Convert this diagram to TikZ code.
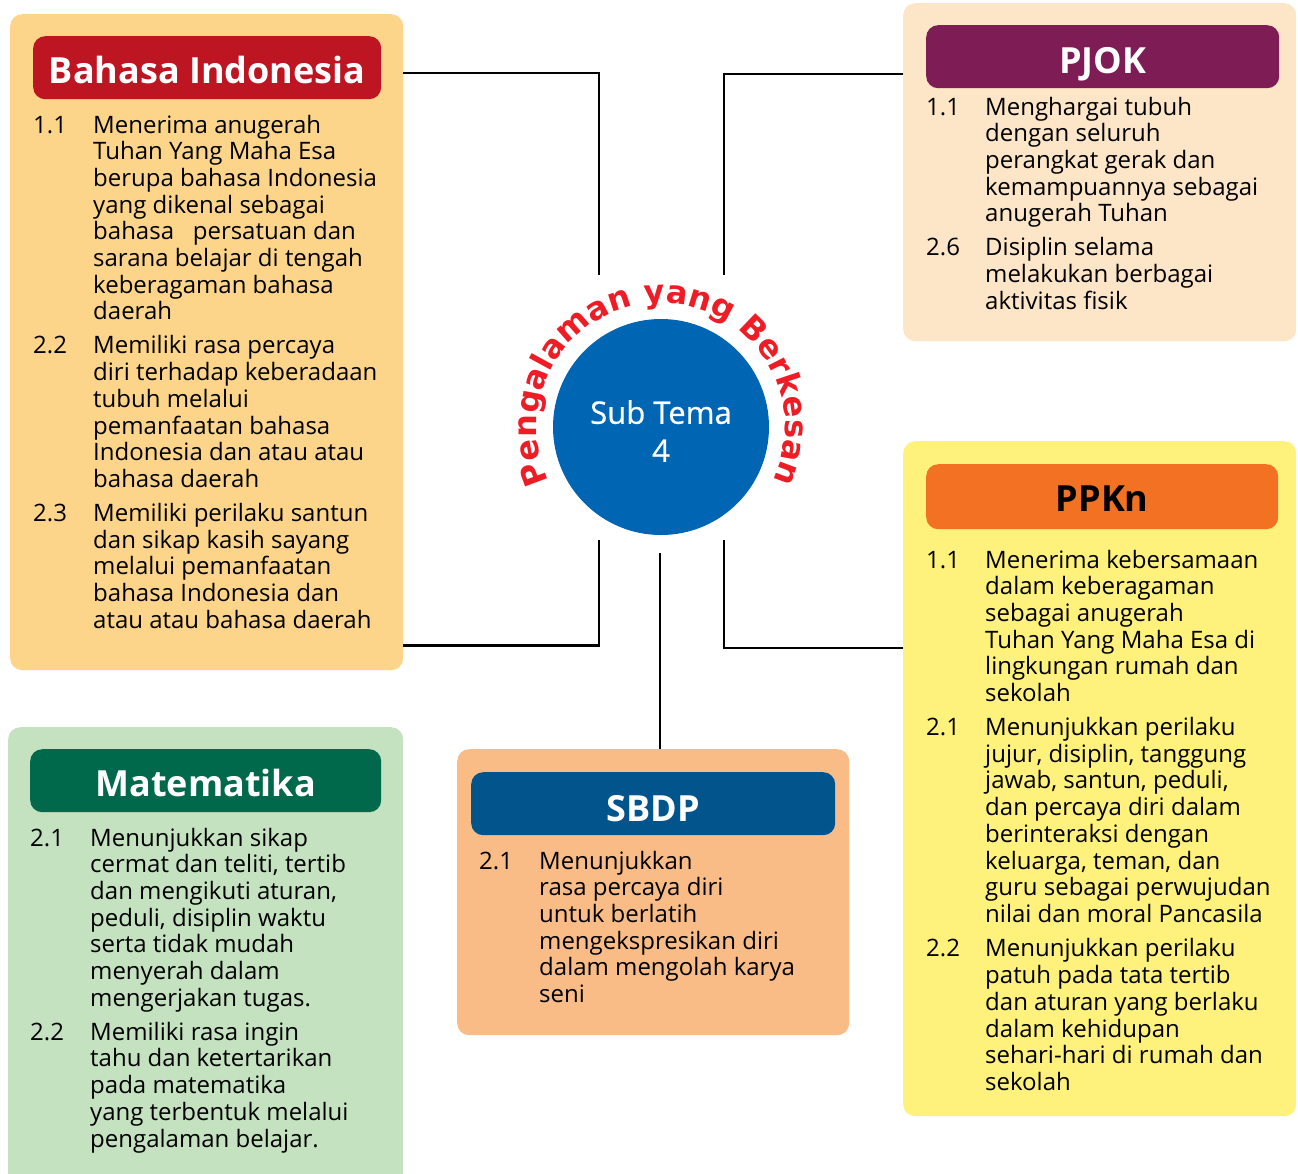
\documentclass[tikz,border=0pt]{standalone}
\usepackage{fontspec}
\setmainfont{Open Sans}
\newfontfamily\arcfont{DejaVu Sans}
\newfontfamily\semifont[FakeBold=0.7]{Open Sans}
\usetikzlibrary{decorations.text}
\definecolor{bifill}{HTML}{FDD58A}
\definecolor{bihead}{HTML}{BE1522}
\definecolor{pjfill}{HTML}{FDE5C8}
\definecolor{pjhead}{HTML}{7E1C55}
\definecolor{ppfill}{HTML}{FEF17C}
\definecolor{pphead}{HTML}{F37123}
\definecolor{mtfill}{HTML}{C4E1C0}
\definecolor{mthead}{HTML}{00694B}
\definecolor{sbfill}{HTML}{F9BC87}
\definecolor{sbhead}{HTML}{01558C}
\definecolor{circblue}{HTML}{0066B3}
\definecolor{arcred}{HTML}{EE1C25}
\newcommand{\nm}[1]{\makebox[60pt][l]{#1}}
\begin{document}
\begin{tikzpicture}[x=1pt,y=1pt,
  panel/.style={rounded corners=12pt, inner sep=0, anchor=north west},
  headbox/.style={rounded corners=12pt, inner sep=0, anchor=north west},
  headtext/.style={font=\fontsize{36}{40}\selectfont\bfseries, inner sep=0, anchor=base},
  itemlist/.style={anchor=base west, inner sep=0, font=\fontsize{24}{26.7}\selectfont, text=black},
  conn/.style={line width=2.5pt, black}]
\useasboundingbox (0,0) rectangle (1298,-1173);

% panels
\node[panel, fill=bifill, minimum width=393, minimum height=656] (bibox) at (10,-14) {};
\node[panel, fill=pjfill, minimum width=393, minimum height=338] (pjbox) at (903,-3) {};
\node[panel, fill=ppfill, minimum width=393, minimum height=675] (ppbox) at (903,-441) {};
\node[panel, fill=mtfill, minimum width=395, minimum height=470] (mtbox) at (8,-727) {};
\node[panel, fill=sbfill, minimum width=392, minimum height=286] (sbbox) at (457,-749) {};

% headers
\node[headbox, fill=bihead, minimum width=348, minimum height=63] (bihd) at (33,-36) {};
\node[headtext, text=white] (bititle) at ([yshift=-15.5pt]bihd.center) {Bahasa Indonesia};
\node[headbox, fill=pjhead, minimum width=353, minimum height=63] (pjhd) at (926,-25) {};
\node[headtext, text=white] (pjtitle) at ([yshift=-16.5pt]pjhd.center) {PJOK};
\node[headbox, fill=pphead, minimum width=352, minimum height=65] (pphd) at (926,-464) {};
\node[headtext, text=black] (pptitle) at ([yshift=-15pt]pphd.center) {PPKn};
\node[headbox, fill=mthead, minimum width=351, minimum height=63] (mthd) at (30,-749) {};
\node[headtext, text=white] (mttitle) at ([yshift=-16pt]mthd.center) {Matematika};
\node[headbox, fill=sbhead, minimum width=364, minimum height=63] (sbhd) at (471,-772) {};
\node[headtext, text=white] (sbtitle) at ([yshift=-18pt]sbhd.center) {SBDP};

% lists
\node[itemlist] (bilist) at (33,-133) {\begin{tabular}[t]{@{}l@{}l@{}}
\nm{1.1} & Menerima anugerah\\
 & Tuhan Yang Maha Esa\\
 & berupa bahasa Indonesia\\
 & yang dikenal sebagai\\
 & bahasa \ \ persatuan dan\\
 & sarana belajar di tengah\\
 & keberagaman bahasa\\
 & daerah\\[7.3pt]
\nm{2.2} & Memiliki rasa percaya\\
 & diri terhadap keberadaan\\
 & tubuh melalui\\
 & pemanfaatan bahasa\\
 & Indonesia dan atau atau\\
 & bahasa daerah\\[7.3pt]
\nm{2.3} & Memiliki perilaku santun\\
 & dan sikap kasih sayang\\
 & melalui pemanfaatan\\
 & bahasa Indonesia dan\\
 & atau atau bahasa daerah
\end{tabular}};

\node[itemlist] (pjlist) at (926,-115) {\begin{tabular}[t]{@{}l@{}l@{}}
\makebox[59pt][l]{1.1} & Menghargai tubuh\\
 & dengan seluruh\\
 & perangkat gerak dan\\
 & kemampuannya sebagai\\
 & anugerah Tuhan\\[7.3pt]
\makebox[59pt][l]{2.6} & Disiplin selama\\
 & melakukan berbagai\\
 & aktivitas fisik
\end{tabular}};

\node[itemlist] (pplist) at (926,-568) {\begin{tabular}[t]{@{}l@{}l@{}}
\makebox[59pt][l]{1.1} & Menerima kebersamaan\\
 & dalam keberagaman\\
 & sebagai anugerah\\
 & Tuhan Yang Maha Esa di\\
 & lingkungan rumah dan\\
 & sekolah\\[7.3pt]
\makebox[59pt][l]{2.1} & Menunjukkan perilaku\\
 & jujur, disiplin, tanggung\\
 & jawab, santun, peduli,\\
 & dan percaya diri dalam\\
 & berinteraksi dengan\\
 & keluarga, teman, dan\\
 & guru sebagai perwujudan\\
 & nilai dan moral Pancasila\\[7.8pt]
\makebox[59pt][l]{2.2} & Menunjukkan perilaku\\
 & patuh pada tata tertib\\
 & dan aturan yang berlaku\\
 & dalam kehidupan\\
 & sehari-hari di rumah dan\\
 & sekolah
\end{tabular}};

\node[itemlist] (mtlist) at (30,-846) {\begin{tabular}[t]{@{}l@{}l@{}}
\nm{2.1} & Menunjukkan sikap\\
 & cermat dan teliti, tertib\\
 & dan mengikuti aturan,\\
 & peduli, disiplin waktu\\
 & serta tidak mudah\\
 & menyerah dalam\\
 & mengerjakan tugas.\\[7.3pt]
\nm{2.2} & Memiliki rasa ingin\\
 & tahu dan ketertarikan\\
 & pada matematika\\
 & yang terbentuk melalui\\
 & pengalaman belajar.
\end{tabular}};

\node[itemlist] (sblist) at (479,-869) {\begin{tabular}[t]{@{}l@{}l@{}}
\nm{2.1} & Menunjukkan\\
 & rasa percaya diri\\
 & untuk berlatih\\
 & mengekspresikan diri\\
 & dalam mengolah karya\\
 & seni
\end{tabular}};

% centre
\node[circle, fill=circblue, minimum size=216, inner sep=0] (cc) at (661,-427) {};
\node[text=white, align=center, inner sep=0, font=\semifont\fontsize{31}{38}\selectfont] (st) at (661,-431) {Sub Tema\\4};
\path[decorate, decoration={text along path, text align=center,
  text={|\arcfont\bfseries\fontsize{32}{34}\selectfont\color{arcred}|Pengalaman yang Berkesan}}]
  ([shift={(210:124)}]cc.center) arc[start angle=210, end angle=-30, radius=124];

% connectors
\coordinate (ctl) at (599,-275);
\coordinate (cbl) at (599,-540);
\coordinate (ctr) at (724,-275);
\coordinate (cbr) at (724,-540);
\coordinate (cbm) at (660,-553);
\draw[conn] ([yshift=-59pt]bibox.north east) -| (ctl);
\draw[conn] ([yshift=25pt]bibox.south east) -| (cbl);
\draw[conn] ([yshift=-71pt]pjbox.north west) -| (ctr);
\draw[conn] ([yshift=-207pt]ppbox.north west) -| (cbr);
\draw[conn] (cbm) -- (cbm |- sbbox.north);
\end{tikzpicture}
\end{document}
